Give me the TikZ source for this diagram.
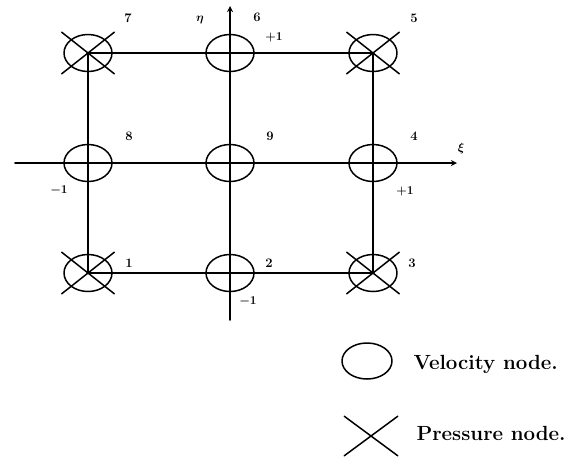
\documentclass[tikz,border=0pt]{standalone}
\usetikzlibrary{shapes.geometric,shapes.misc}
\begin{document}
\begin{tikzpicture}[x=1pt, y=-1pt, line cap=round, line join=round,
    vel/.style={draw, ellipse, line width=1.5pt, minimum width=48pt, minimum height=37pt, inner sep=0pt},
    pres/.style={draw, cross out, line width=1.5pt, minimum width=51pt, minimum height=40pt, inner sep=0pt},
    num/.style={font=\fontsize{13}{15}\selectfont\bfseries\boldmath},
    legend/.style={font=\fontsize{20.5}{23}\selectfont\bfseries, anchor=west}]
  \useasboundingbox (0,0) rectangle (576,456);
  % element nodes
  \node[vel] (n1) at (88,273) {};
  \node[vel] (n2) at (230,273) {};
  \node[vel] (n3) at (373,273) {};
  \node[vel] (n4) at (373,163) {};
  \node[vel] (n5) at (373,53) {};
  \node[vel] (n6) at (230,53) {};
  \node[vel] (n7) at (88,53) {};
  \node[vel] (n8) at (88,163) {};
  \node[vel] (n9) at (230,163) {};
  \node[pres] (p1) at (n1) {};
  \node[pres] (p3) at (n3) {};
  \node[pres] (p5) at (n5) {};
  \node[pres] (p7) at (n7) {};
  % element edges
  \draw[line width=1.5pt] (n1.center) -- (n3.center) -- (n5.center) -- (n7.center) -- cycle;
  % axes
  \coordinate (xl) at (15,163);
  \coordinate (xr) at (457,163);
  \coordinate (eb) at (230,320);
  \coordinate (et) at (230,6);
  \draw[line width=1.7pt, -stealth] (xl) -- (xr);
  \draw[line width=1.7pt, -stealth] (eb) -- (et);
  \node[num] (xi) at (461,148) {$\xi$};
  \node[num] (eta) at (200,20) {$\eta$};
  % numbers
  \node[num] (l1) at (129,263) {1};
  \node[num] (l2) at (269,263) {2};
  \node[num] (l3) at (412,263) {3};
  \node[num] (l4) at (414,136) {4};
  \node[num] (l5) at (414,18) {5};
  \node[num] (l6) at (257,17) {6};
  \node[num] (l7) at (128,18) {7};
  \node[num] (l8) at (129,136) {8};
  \node[num] (l9) at (270,136) {9};
  \node[num] (ml) at (59,190) {$-1$};
  \node[num] (pr) at (405,191) {$+1$};
  \node[num] (pt) at (274,37) {$+1$};
  \node[num] (mb) at (248,301) {$-1$};
  % legend
  \node[vel, minimum width=50pt, minimum height=36pt] (kv) at (367,361) {};
  \node[legend] (tv) at (410,364) {Velocity node.};
  \node[pres, minimum width=52pt, minimum height=38pt] (kp) at (371,436) {};
  \node[legend] (tp) at (413,433) {Pressure node.};
\end{tikzpicture}
\end{document}
